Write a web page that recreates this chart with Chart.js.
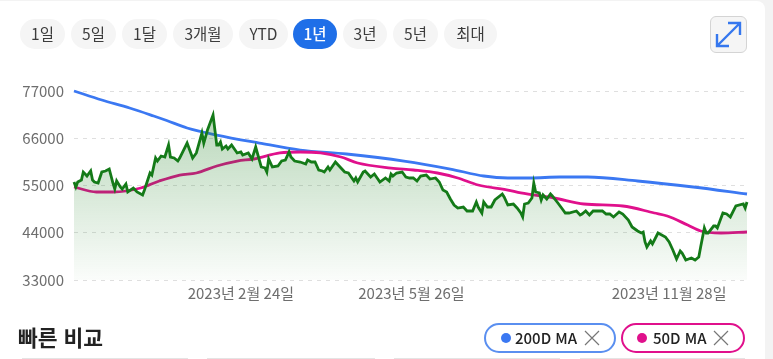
<!DOCTYPE html>
<html lang="ko">
<head>
  <meta charset="UTF-8" />
  <title>1년 차트</title>
  <script src="https://cdn.jsdelivr.net/npm/chart.js"></script>
  <style>
    html, body { margin: 0; padding: 0; width: 773px; height: 359px; overflow: hidden; background: #f3f3f3; }
    body { font-family: "Noto Sans CJK KR", sans-serif; color: #333; position: relative; }
    #card { position: absolute; left: 0; top: 1px; width: 765px; height: 358px; background: #fff; border-top-right-radius: 8px; }
    #chartBox { position: absolute; left: 0; top: 0; width: 773px; height: 359px; }
    .range { position: absolute; top: 19px; height: 30px; line-height: 29px; border-radius: 15px; background: #f5f5f5; text-align: center; font-size: 15.5px; color: #3c3c3c; }
    .range.on { background: #1f6fe8; color: #fff; font-weight: 500; }
    #expand { position: absolute; left: 710px; top: 16px; width: 35px; height: 35px; border: 1px solid #d4d4d4; border-radius: 6px; background: #f5f5f5; }
    #title { position: absolute; left: 18px; top: 323px; font-size: 21.5px; line-height: 28px; font-weight: 700; color: #222; }
    .pill { position: absolute; top: 323px; height: 26px; border-radius: 15px; background: #fff; font-size: 15px; font-weight: 500; line-height: 26px; color: #222; border: 2px solid; }
    .pill i { position: absolute; top: 8px; width: 10px; height: 10px; border-radius: 50%; }
    .pill span { position: absolute; top: 0; white-space: nowrap; }
    .pill svg { position: absolute; top: 5px; }
    .stub { position: absolute; top: 358px; height: 1px; background: #e4e4e4; }
  </style>
</head>
<body>
  <div id="card"></div>
  <div id="chartBox"><canvas id="chart" width="773" height="359"></canvas></div>

  <div class="range" style="left:20px;width:45px">1일</div>
  <div class="range" style="left:71px;width:45px">5일</div>
  <div class="range" style="left:122px;width:45px">1달</div>
  <div class="range" style="left:173px;width:60px">3개월</div>
  <div class="range" style="left:239px;width:49px">YTD</div>
  <div class="range on" style="left:293px;width:44px">1년</div>
  <div class="range" style="left:343px;width:44px">3년</div>
  <div class="range" style="left:393px;width:45px">5년</div>
  <div class="range" style="left:444px;width:53px">최대</div>

  <div id="expand">
    <svg width="35" height="35" viewBox="0 0 35 35" fill="none" stroke="#3577ee" stroke-width="2.4">
      <path d="M6 29 L29 6 M17 6 H29 V18 M6 17 V29 H18" />
    </svg>
  </div>

  <div id="title">빠른 비교</div>

  <div class="pill" style="left:484px;width:128px;border-color:#5a8ff0">
    <i style="left:15px;background:#3b78f2"></i><span style="left:29px">200D MA</span>
    <svg style="left:98px" width="16" height="16" stroke="#777" stroke-width="1.2"><path d="M1 1 L15 15 M15 1 L1 15" /></svg>
  </div>
  <div class="pill" style="left:621px;width:120px;border-color:#e0108c">
    <i style="left:14px;background:#e0108c"></i><span style="left:30px">50D MA</span>
    <svg style="left:90px" width="16" height="16" stroke="#777" stroke-width="1.2"><path d="M1 1 L15 15 M15 1 L1 15" /></svg>
  </div>

  <div class="stub" style="left:22px;width:166px"></div>
  <div class="stub" style="left:207px;width:168px"></div>
  <div class="stub" style="left:394px;width:166px"></div>
  <div class="stub" style="left:580px;width:165px"></div>

  <script>
    // days counted from the left edge of the chart
    const priceDays = [0,1,2,4,5,7,9,10,11,13,15,17,19,21,22,23,25,26,28,29,32,34,37,38,41,42,44,45,47,49,51,52,54,56,57,61,64,66,69,70,72,75,77,78,79,80,82,83,85,88,90,91,94,96,98,101,103,104,105,107,110,112,114,116,117,119,122,125,126,128,130,132,134,135,137,138,141,144,146,148,151,152,153,156,157,160,162,165,168,170,171,172,174,177,179,181,183,185,187,190,192,195,197,199,201,203,205,207,210,212,215,217,218,220,221,223,225,227,231,232,234,237,239,241,242,243,245,247,248,249,251,252,253,255,257,258,261,263,265,267,271,273,274,276,278,280,285,287,289,291,294,296,299,301,304,306,307,308,309,311,312,315,319,321,323,325,327,328,330,333,335,337,338,340,341,342,345,346,347,350,352,354,357,361,362,363];
    const price = [55810,54650,55810,56280,58140,57210,58380,56280,55810,55580,58140,58380,58840,55580,54190,56050,54650,54190,55350,53490,54420,53490,52790,53950,57910,57440,61400,60700,61870,61630,64430,61630,61400,60700,61400,64890,61400,62570,67220,64890,67920,71410,64430,64430,65130,63500,64200,63500,64430,62570,62800,62100,62570,61170,63960,59310,59070,58140,61170,59310,59540,60700,60940,62800,61630,60700,60470,60000,60940,60470,60470,58610,58380,58140,59310,58610,60470,59070,58140,57910,56050,56750,55810,58140,58380,56980,57680,55810,56750,56050,57680,57210,57910,58140,56980,56750,56750,56050,57210,57440,56510,56750,55810,53950,53490,51860,50460,49760,49990,49060,49060,51160,49990,48600,51160,49990,49990,51620,53020,52320,50460,50690,49760,48600,47670,50690,50930,52090,55580,53490,53260,51620,52790,51860,53020,52560,50930,49760,48600,48600,49060,48130,48360,49060,48130,49060,49060,48360,48360,47670,48830,48360,46970,45340,44410,43940,44170,41850,40680,42080,41380,43940,43010,41850,39980,37890,39750,39290,37660,38120,37660,38350,40680,45110,43940,43940,45570,45570,45110,48600,48360,47670,50230,50690,49760,51160];

    const ma200Days = [0,15,30,43,50,61,77,100,122,147,178,203,221,234,246,262,277,304,334,363];
    const ma200 = [77000,74900,73040,71180,70130,68390,66750,64890,63260,62330,60700,58840,57210,56750,56750,56980,56980,56050,54650,53020];

    const ma50Days = [0,12,21,36,46,57,66,77,88,97,111,122,133,144,153,171,183,196,207,218,234,241,259,275,296,313,320,331,338,349,363];
    const ma50 = [54650,53490,53490,54420,56050,57440,57910,59540,60700,61170,62570,62800,62570,61630,60240,59070,58610,57910,56750,55120,53950,53260,52090,50690,50230,48600,47900,45800,44410,43940,44170];

    const yTicks = [33000,44000,55000,66000,77000];
    const xTickDays = [90,182,321];
    const xTickLabels = ["2023년 2월 24일","2023년 5월 26일","2023년 11월 28일"];

    const pairs = (xs, ys) => xs.map((x, i) => ({ x, y: ys[i] }));

    new Chart(document.getElementById("chart").getContext("2d"), {
      type: "line",
      data: {
        datasets: [
          {
            data: pairs(priceDays, price),
            borderColor: "#147a18",
            borderWidth: 2.8,
            pointRadius: 0,
            tension: 0,
            fill: "start",
            backgroundColor: ctx => {
              const area = ctx.chart.chartArea;
              if (!area) return "transparent";
              const g = ctx.chart.ctx.createLinearGradient(0, area.top + 20, 0, area.bottom);
              g.addColorStop(0, "rgba(20,122,24,0.30)");
              g.addColorStop(1, "rgba(20,122,24,0.02)");
              return g;
            }
          },
          { data: pairs(ma50Days, ma50), borderColor: "#e0108c", borderWidth: 2.8, pointRadius: 0, cubicInterpolationMode: "monotone", fill: false },
          { data: pairs(ma200Days, ma200), borderColor: "#3b78f2", borderWidth: 2.8, pointRadius: 0, cubicInterpolationMode: "monotone", fill: false }
        ]
      },
      options: {
        responsive: false,
        animation: false,
        clip: false,
        layout: { padding: { left: 0, right: 26, top: 91, bottom: 0 } },
        plugins: { legend: { display: false }, tooltip: { enabled: false } },
        scales: {
          x: {
            type: "linear",
            min: 0,
            max: 363,
            afterBuildTicks: axis => { axis.ticks = xTickDays.map(value => ({ value })); },
            afterFit: axis => { axis.height = 79; },
            grid: { display: false },
            border: { display: false },
            ticks: {
              autoSkip: false,
              maxRotation: 0,
              padding: -4,
              color: "#6e6e6e",
              font: { family: "Noto Sans CJK KR", size: 15 },
              callback: value => xTickLabels[xTickDays.indexOf(value)]
            }
          },
          y: {
            min: 33000,
            max: 77000,
            afterBuildTicks: axis => { axis.ticks = yTicks.map(value => ({ value })); },
            afterFit: axis => { axis.width = 74; },
            grid: { color: "#dfdfdf", tickLength: 0, drawTicks: false },
            border: { display: false, dash: [4, 5] },
            ticks: {
              padding: 10,
              color: "#6e6e6e",
              font: { family: "Noto Sans CJK KR", size: 15 },
              callback: value => String(value)
            }
          }
        }
      }
    });
  </script>
</body>
</html>
